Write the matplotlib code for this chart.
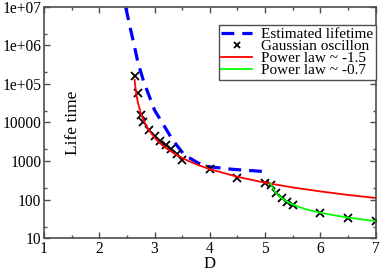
import matplotlib
matplotlib.use('Agg')
import matplotlib.pyplot as plt
import numpy as np

plt.rcParams['font.family'] = ['Liberation Serif', 'DejaVu Serif']

# estimated lifetime (blue dashed)
D_est = [2.48, 2.55, 2.62, 2.70, 2.80, 2.90, 3.00, 3.20, 3.33, 3.54, 3.80, 4.00, 4.40, 5.00]
t_est = [9.5e6, 3.3e6, 1.2e6, 3.6e5, 1.2e5, 5.0e4, 2.1e4, 7100, 3500, 1440, 875, 710, 615, 535]

# gaussian oscillon (crosses)
D_osc = [2.65, 2.7, 2.75, 2.8, 2.9, 3.0, 3.1, 3.2, 3.3, 3.4, 3.5, 4.0, 4.5, 5.0, 5.1,
         5.2, 5.3, 5.4, 5.5, 6.0, 6.5, 7.0]
t_osc = [1.6e5, 5.7e4, 1.6e4, 1.05e4, 6400, 4500, 3300, 2600, 2000, 1500, 1070, 615,
         370, 265, 240, 147, 109, 89, 73, 46, 33, 28]

# power law ~ -1.5 (red)
D_p1 = [2.64, 2.65, 2.67, 2.7, 2.75, 2.8, 2.85, 2.9, 3.0, 3.1, 3.2, 3.4, 3.6, 3.8, 4.0,
        4.5, 5.0, 5.5, 6.0, 6.5, 7.0]
t_p1 = [1.27e5, 91800, 55400, 32500, 17700, 11480, 8300, 6250, 4060, 2900, 2210, 1435,
        1027, 781, 620, 392, 276, 208, 164, 133, 111]

# power law ~ -0.7 (green)
D_p2 = [5.1, 5.15, 5.2, 5.25, 5.3, 5.4, 5.5, 5.6, 5.75, 6.0, 6.25, 6.5, 6.75, 7.0]
t_p2 = [265, 188, 150, 126, 110, 89, 75.6, 66, 56, 46, 39.5, 34.4, 31, 28]

fig = plt.figure(figsize=(3.82, 2.72), dpi=100)
ax = fig.add_axes([0.1152, 0.1239, 0.8678, 0.8515])

ax.plot(D_est, t_est, color='#0000ff', lw=2.3, dashes=(4, 2.5), label='Estimated lifetime')
ax.plot(D_osc, t_osc, 'x', color='k', ms=6, mew=1.3, label='Gaussian oscillon')
ax.plot(D_p1, t_p1, color='#ff0000', lw=1.3, label='Power law ~ -1.5')
ax.plot(D_p2, t_p2, color='#00ff00', lw=1.3, label='Power law ~ -0.7')

ax.set_yscale('log')
ax.set_xlim(1, 7)
ax.set_ylim(10, 1e7)

yt = [10, 100, 1000, 10000, 1e5, 1e6, 1e7]
ylabs = ['10', '100', '1000', '10000', '1e+05', '1e+06', '1e+07']
ax.set_yticks(yt)
ax.set_yticklabels(ylabs)
ax.set_yticks([2 * 10**n for n in range(1, 7)], minor=True)
ax.yaxis.set_minor_formatter(matplotlib.ticker.NullFormatter())
ax.set_xticks([1, 2, 3, 4, 5, 6, 7])
ax.set_xticks([1.5, 2.5, 3.5, 4.5, 5.5, 6.5], minor=True)

ax.tick_params(which='both', direction='in', top=True, right=True, labelsize=11.2,
               color='0.3')
ax.tick_params(which='major', length=4, width=1, pad=2)
ax.tick_params(which='minor', length=2.3, width=1)
for s in ax.spines.values():
    s.set_color('0.3')
    s.set_linewidth(1.2)

ax.set_xlabel('D', fontsize=12, labelpad=-1)
ax.set_ylabel('Life time', fontsize=12.5)
ax.yaxis.set_label_coords(0.112, 0.5)

leg = ax.legend(loc='upper right', bbox_to_anchor=(1.0, 0.921), borderaxespad=0,
                fontsize=11, frameon=True, fancybox=False, framealpha=1,
                edgecolor='0.3', handlelength=2.0, handletextpad=0.6,
                labelspacing=-0.1, borderpad=0.15, markerscale=0.8)
leg.get_frame().set_linewidth(1.0)

fig.savefig('out.png', dpi=100)
